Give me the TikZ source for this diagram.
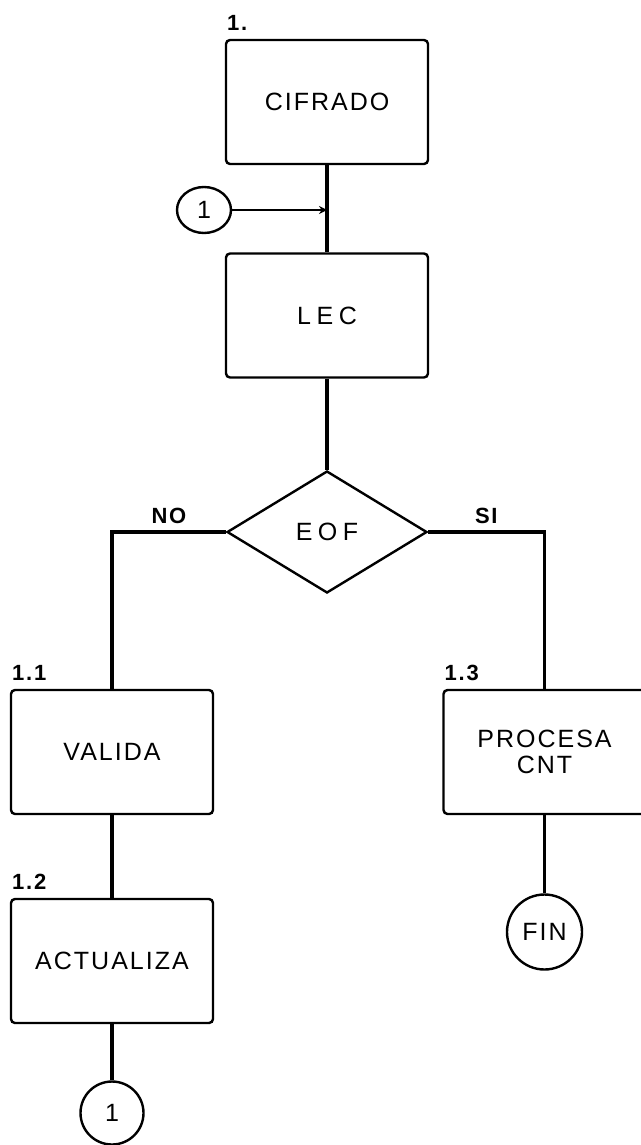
\documentclass[tikz,border=0pt]{standalone}
\usepackage{fontspec}
\setmainfont{Liberation Sans}[LetterSpace=8]
\newfontfamily\widefont{Liberation Sans}[LetterSpace=22]
\usepackage{tikz}
\usetikzlibrary{shapes.geometric,arrows.meta}

\begin{document}
\begin{tikzpicture}[x=0.5pt, y=-0.5pt, font=\fontsize{12.5}{13}\selectfont, box/.style={draw, line width=1.2pt, rounded corners=2pt, align=center, minimum width=101pt, minimum height=62pt, inner sep=0pt}, cond/.style={draw, diamond, line width=1.2pt, minimum width=100pt, minimum height=61pt, inner sep=0pt}, conn/.style={draw, circle, line width=1.2pt, inner sep=0pt}, num/.style={font=\fontsize{11}{12}\selectfont\bfseries, anchor=south west, inner sep=1pt, yshift=3pt}, link/.style={line width=1.8pt}, arr/.style={-{Stealth[length=4pt, width=4pt]}, line width=1.4pt}]
\clip (0,0) rectangle (641,1145);
\node[box] (cifrado) at (327,102) {CIFRADO};
\node[num] (ncifrado) at (cifrado.north west) {1.};
\node[conn, ellipse, minimum width=27pt, minimum height=23pt] (conA) at (204,210) {1};
\coordinate (join) at (cifrado.south |- conA);
\node[box] (lec) at (327,315.5) {\widefont LEC};
\node[cond] (eof) at (327,532) {\widefont EOF};
\node[box] (valida) at (112,752) {VALIDA};
\node[num] (nvalida) at (valida.north west) {1.1};
\node[box] (actualiza) at (112,961) {ACTUALIZA};
\node[num] (nactualiza) at (actualiza.north west) {1.2};
\node[conn, minimum size=31.5pt] (conB) at (112,1113) {1};
\node[box] (procesa) at (544.5,752) {PROCESA\\CNT};
\node[num] (nprocesa) at (procesa.north west) {1.3};
\node[conn, minimum size=37.5pt] (fin) at (544.5,932) {FIN};
\draw[link] (cifrado) -- (lec);
\draw[arr] (conA) -- (join);
\draw[link] (lec) -- (eof);
\draw[link] (eof.west) -| node[pos=0.25, above, font=\fontsize{11}{12}\selectfont\bfseries] (no) {NO} (valida.north);
\draw[link] (eof.east) -| node[pos=0.25, above, font=\fontsize{11}{12}\selectfont\bfseries] (si) {SI} (procesa.north);
\draw[link] (valida) -- (actualiza);
\draw[link] (actualiza) -- (conB);
\draw[link] (procesa) -- (fin);
\end{tikzpicture}
\end{document}
